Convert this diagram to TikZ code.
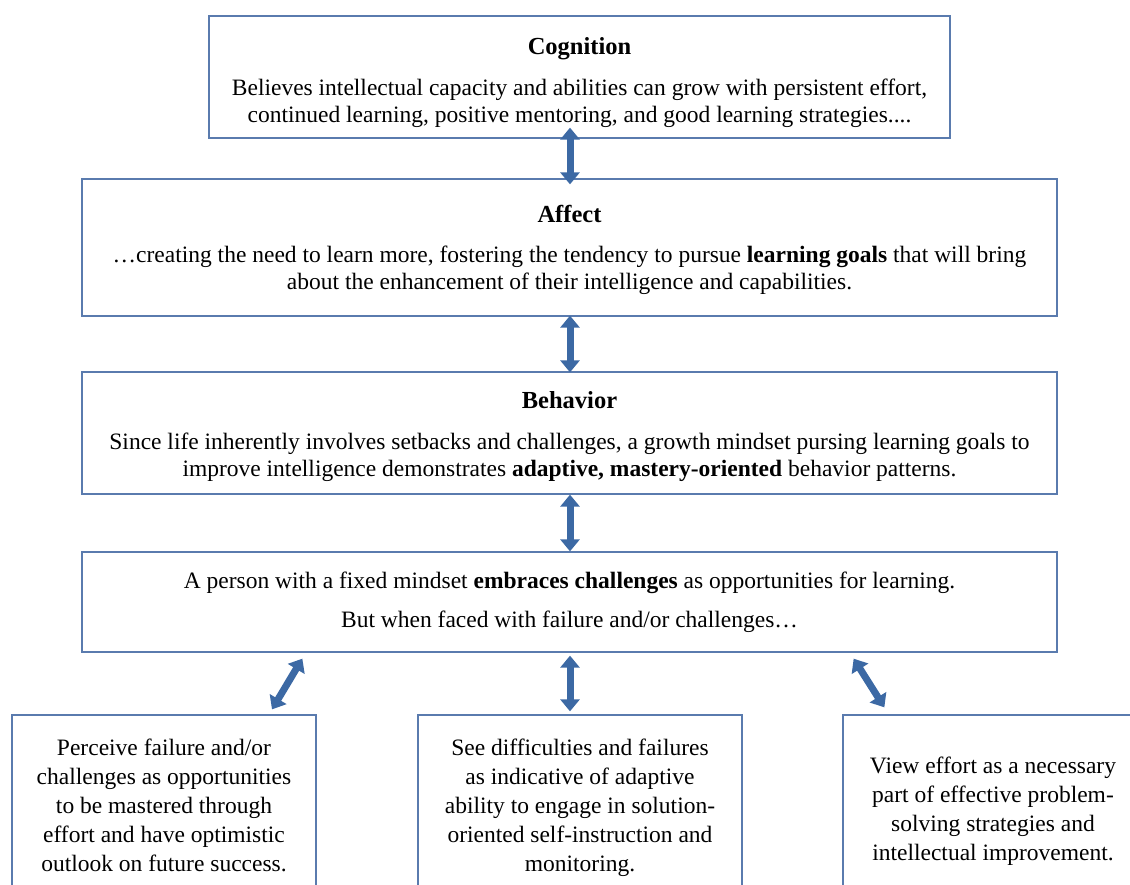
\documentclass[tikz,border=0pt]{standalone}
\usepackage{fontspec}
\setmainfont{Liberation Serif}
\usetikzlibrary{arrows.meta,calc}

\definecolor{boxline}{HTML}{5A7BAE}
\definecolor{arrowfill}{HTML}{3C69A4}

\tikzset{
  box/.style={draw=boxline, line width=1.3pt, fill=white, inner sep=0pt},
  boxtext/.style={align=center, inner sep=0pt, font=\fontsize{23.5}{27.5}\selectfont},
  lowtext/.style={boxtext, font=\fontsize{23.5}{29}\selectfont},
  biarrow/.style={draw=arrowfill, line width=7pt,
              {Triangle[width=19pt,length=12pt]}-{Triangle[width=19pt,length=12pt]}}
}
\newcommand{\boxhead}[1]{{\fontsize{24.5}{27.5}\selectfont\bfseries #1}}

\begin{document}
\begin{tikzpicture}[x=1pt,y=-1pt]
\useasboundingbox (0,0) rectangle (1130,885);
\clip (0,0) rectangle (1130,885);

% main chain of boxes
\node[box, minimum width=741pt, minimum height=122pt,
  label={[boxtext, yshift=-6pt]center:{\boxhead{Cognition}\\[13pt]
   Believes intellectual capacity and abilities can grow with persistent effort,\\
   continued learning, positive mentoring, and good learning strategies....}}]
  (cog) at (579.5,77) {};

\node[box, minimum width=975pt, minimum height=137pt,
  label={[boxtext, yshift=-2.5pt]center:{\boxhead{Affect}\\[12pt]
   \ldots creating the need to learn more, fostering the tendency to pursue \textbf{learning goals} that will bring\\
   about the enhancement of their intelligence and capabilities.}}]
  (aff) at (569.5,247.5) {};

\node[box, minimum width=975pt, minimum height=122pt,
  label={[boxtext, yshift=-4pt]center:{\boxhead{Behavior}\\[13pt]
   Since life inherently involves setbacks and challenges, a growth mindset pursing learning goals to\\
   improve intelligence demonstrates \textbf{adaptive, mastery-oriented} behavior patterns.}}]
  (beh) at (569.5,433) {};

\node[box, minimum width=975pt, minimum height=100pt,
  label={[boxtext]center:{A person with a fixed mindset \textbf{embraces challenges} as opportunities for learning.\\[11.5pt]
   But when faced with failure and/or challenges\ldots}}]
  (fix) at (569.5,602) {};

% three outcome boxes along the bottom
\node[box, minimum width=304pt, minimum height=180pt,
  label={[lowtext]center:{Perceive failure and/or\\
   challenges as opportunities\\
   to be mastered through\\
   effort and have optimistic\\
   outlook on future success.}}]
  (bl) at (164,805) {};

\node[box, minimum width=324pt, minimum height=180pt,
  label={[lowtext, yshift=-3pt]center:{See difficulties and failures\\
   as indicative of adaptive\\
   ability to engage in solution-\\
   oriented self-instruction and\\
   monitoring.}}]
  (bm) at (580,805) {};

\node[box, minimum width=300pt, minimum height=186pt,
  label={[lowtext, yshift=-3pt]center:{View effort as a necessary\\
   part of effective problem-\\
   solving strategies and\\
   intellectual improvement.}}]
  (br) at (993,808) {};

% two-way arrows
\draw[biarrow] ($(cog.south)+(-9.5,-11)$) -- ($(aff.north)+(0.5,6)$);
\draw[biarrow] ($(aff.south)+(0.5,-1)$) -- ($(beh.north)+(0.5,1)$);
\draw[biarrow] ($(beh.south)+(0.5,0)$) -- ($(fix.north)+(0.5,0)$);
\draw[biarrow] ($(fix.south)+(0.5,3)$) -- ($(bm.north)+(-10,-3)$);
\draw[biarrow] ($(fix.south west)+(221,6)$) -- ($(bl.north)+(108,-5)$);
\draw[biarrow] ($(fix.south east)+(-204,6)$) -- ($(br.north west)+(42,-7)$);
\end{tikzpicture}
\end{document}
